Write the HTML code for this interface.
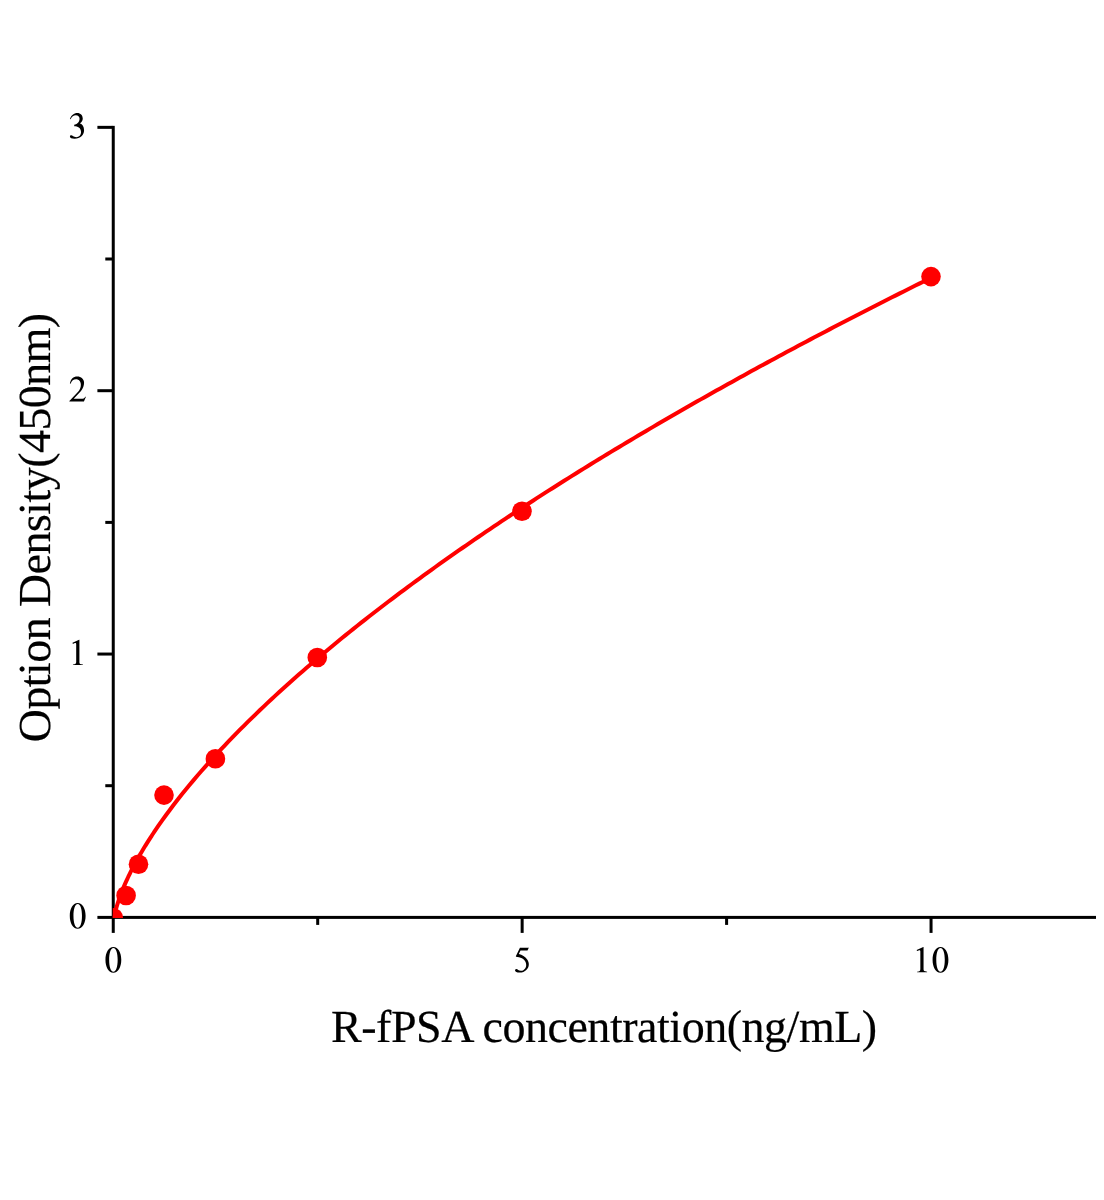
<!DOCTYPE html>
<html><head><meta charset="utf-8"><title>chart</title>
<style>
html,body{margin:0;padding:0;background:#fff;}
body{width:1104px;height:1200px;overflow:hidden;}
svg{display:block;will-change:transform;}
text{font-family:"Liberation Serif",serif;fill:#000;stroke:#000;stroke-width:0.2px;text-rendering:geometricPrecision;}
</style></head><body>
<svg width="1104" height="1200" viewBox="0 0 1104 1200">
<rect width="1104" height="1200" fill="#fff"/>
<defs><clipPath id="plot"><rect x="112.75" y="100" width="991" height="818.05"/></clipPath></defs>
<g fill="#000">
<rect x="111.75" y="125.85" width="3" height="807.05"/>
<rect x="97.4" y="915.9" width="998.6" height="3"/>
<rect x="97.4" y="125.85" width="15" height="3"/>
<rect x="97.4" y="389.2" width="15" height="3"/>
<rect x="97.4" y="652.55" width="15" height="3"/>
<rect x="105.3" y="257.5" width="7" height="3"/>
<rect x="105.3" y="520.9" width="7" height="3"/>
<rect x="105.3" y="784.2" width="7" height="3"/>
<rect x="520.65" y="917" width="3" height="15.9"/>
<rect x="929.55" y="917" width="3" height="15.9"/>
<rect x="316.2" y="917" width="3" height="7.9"/>
<rect x="725.1" y="917" width="3" height="7.9"/>
</g>
<g clip-path="url(#plot)">
<path d="M113.50,923.34 L113.51,923.08 L113.53,922.68 L113.56,922.20 L113.60,921.66 L113.66,921.08 L113.74,920.45 L113.82,919.78 L113.92,919.08 L114.03,918.35 L114.15,917.59 L114.29,916.80 L114.44,915.99 L114.61,915.16 L114.78,914.30 L114.97,913.43 L115.18,912.53 L115.39,911.61 L115.62,910.68 L115.86,909.72 L116.12,908.75 L116.39,907.77 L116.67,906.76 L116.96,905.74 L117.27,904.71 L117.59,903.66 L117.93,902.60 L118.27,901.52 L118.63,900.43 L119.01,899.33 L119.39,898.21 L119.79,897.09 L120.21,895.94 L120.63,894.79 L121.07,893.63 L121.52,892.45 L121.99,891.26 L122.47,890.06 L122.96,888.85 L123.46,887.63 L123.98,886.40 L124.51,885.16 L125.05,883.91 L125.61,882.65 L126.18,881.38 L126.76,880.10 L127.36,878.81 L127.97,877.51 L128.59,876.20 L129.23,874.88 L129.87,873.55 L130.54,872.22 L131.21,870.87 L131.90,869.52 L132.60,868.16 L133.31,866.79 L134.04,865.41 L134.78,864.03 L135.53,862.64 L136.30,861.23 L137.08,859.83 L137.87,858.41 L138.68,856.98 L139.49,855.55 L140.33,854.11 L141.17,852.67 L142.03,851.21 L142.90,849.75 L143.78,848.28 L144.68,846.81 L145.59,845.33 L146.52,843.84 L147.45,842.34 L148.40,840.84 L149.36,839.33 L150.34,837.82 L151.33,836.30 L152.33,834.77 L153.35,833.23 L154.38,831.69 L158.28,825.96 L162.18,820.40 L166.08,814.99 L169.99,809.71 L173.89,804.56 L177.79,799.52 L181.69,794.59 L185.60,789.75 L189.50,785.01 L193.40,780.35 L197.30,775.76 L201.21,771.25 L205.11,766.81 L209.01,762.44 L212.91,758.13 L216.82,753.88 L220.72,749.68 L224.62,745.54 L228.53,741.44 L232.43,737.40 L236.33,733.41 L240.23,729.45 L244.14,725.55 L248.04,721.68 L251.94,717.85 L255.84,714.06 L259.75,710.31 L263.65,706.60 L267.55,702.91 L271.45,699.27 L275.36,695.65 L279.26,692.06 L283.16,688.51 L287.06,684.99 L290.97,681.49 L294.87,678.02 L298.77,674.58 L302.68,671.16 L306.58,667.77 L310.48,664.41 L314.38,661.07 L318.29,657.75 L322.19,654.46 L326.09,651.18 L329.99,647.93 L333.90,644.71 L337.80,641.50 L341.70,638.31 L345.60,635.15 L349.51,632.00 L353.41,628.87 L357.31,625.76 L361.21,622.67 L365.12,619.60 L369.02,616.54 L372.92,613.50 L376.83,610.48 L380.73,607.48 L384.63,604.49 L388.53,601.52 L392.44,598.56 L396.34,595.62 L400.24,592.69 L404.14,589.78 L408.05,586.89 L411.95,584.00 L415.85,581.14 L419.75,578.28 L423.66,575.44 L427.56,572.62 L431.46,569.80 L435.36,567.00 L439.27,564.21 L443.17,561.44 L447.07,558.68 L450.98,555.93 L454.88,553.19 L458.78,550.46 L462.68,547.75 L466.59,545.04 L470.49,542.35 L474.39,539.67 L478.29,537.00 L482.20,534.34 L486.10,531.69 L490.00,529.06 L493.90,526.43 L497.81,523.81 L501.71,521.21 L505.61,518.61 L509.52,516.02 L513.42,513.45 L517.32,510.88 L521.22,508.32 L525.13,505.78 L529.03,503.24 L532.93,500.71 L536.83,498.19 L540.74,495.68 L544.64,493.17 L548.54,490.68 L552.44,488.20 L556.35,485.72 L560.25,483.25 L564.15,480.79 L568.05,478.34 L571.96,475.90 L575.86,473.46 L579.76,471.04 L583.67,468.62 L587.57,466.21 L591.47,463.80 L595.37,461.41 L599.28,459.02 L603.18,456.64 L607.08,454.27 L610.98,451.90 L614.89,449.54 L618.79,447.19 L622.69,444.85 L626.59,442.51 L630.50,440.18 L634.40,437.86 L638.30,435.55 L642.20,433.24 L646.11,430.94 L650.01,428.64 L653.91,426.35 L657.82,424.07 L661.72,421.79 L665.62,419.52 L669.52,417.26 L673.43,415.00 L677.33,412.75 L681.23,410.51 L685.13,408.27 L689.04,406.04 L692.94,403.82 L696.84,401.60 L700.74,399.38 L704.65,397.17 L708.55,394.97 L712.45,392.78 L716.35,390.59 L720.26,388.40 L724.16,386.22 L728.06,384.05 L731.97,381.88 L735.87,379.72 L739.77,377.56 L743.67,375.41 L747.58,373.27 L751.48,371.12 L755.38,368.99 L759.28,366.86 L763.19,364.73 L767.09,362.62 L770.99,360.50 L774.89,358.39 L778.80,356.29 L782.70,354.19 L786.60,352.09 L790.51,350.00 L794.41,347.92 L798.31,345.84 L802.21,343.77 L806.12,341.70 L810.02,339.63 L813.92,337.57 L817.82,335.52 L821.73,333.46 L825.63,331.42 L829.53,329.38 L833.43,327.34 L837.34,325.31 L841.24,323.28 L845.14,321.26 L849.04,319.24 L852.95,317.22 L856.85,315.21 L860.75,313.21 L864.66,311.20 L868.56,309.21 L872.46,307.21 L876.36,305.23 L880.27,303.24 L884.17,301.26 L888.07,299.28 L891.97,297.31 L895.88,295.34 L899.78,293.38 L903.68,291.42 L907.58,289.47 L911.49,287.51 L915.39,285.57 L919.29,283.62 L923.19,281.68 L927.10,279.75 L931.00,277.81" fill="none" stroke="#f00" stroke-width="4" stroke-linejoin="round" stroke-linecap="round"/>
<g fill="#f00"><circle cx="113.4" cy="917.6" r="9.6"/><circle cx="126.1" cy="895.45" r="9.8"/><circle cx="138.5" cy="864.3" r="9.8"/><circle cx="164.0" cy="795.1" r="9.8"/><circle cx="215.4" cy="758.8" r="9.8"/><circle cx="317.3" cy="657.5" r="9.8"/><circle cx="522.0" cy="511.3" r="9.8"/><circle cx="931.0" cy="276.6" r="9.8"/></g>
</g>
<g fill="#000">
<path fill-rule="evenodd" transform="translate(103.93,972.2) scale(0.0373,-0.0373)" d="M253,677 C384,677 465,525 465,331 C465,137 384,-15 253,-15 C122,-15 41,137 41,331 C41,525 122,677 253,677 Z M254,652 C179,652 140,511 140,331 C140,151 179,10 254,10 C329,10 368,151 368,331 C368,511 329,652 254,652 Z"/>
<path transform="translate(512.85,972.2) scale(0.0373,-0.0373)" d="M433,668 L393,580 L205,580 L160,486 C250,466 330,418 385,338 C415,293 428,248 428,213 C428,93 330,-10 184,-10 C108,-10 58,10 58,45 C58,68 74,85 96,85 C132,85 146,38 218,38 C296,38 358,110 358,195 C358,300 280,378 165,403 C135,410 110,414 85,416 L80,426 L190,655 L420,655 Z"/>
<path transform="translate(912.4,972.2) scale(0.0373,-0.0373)" d="M394,0 L126,0 L126,15 C195,19 213,30 213,86 L213,552 C213,588 200,596 178,589 C160,583 142,574 124,566 L114,598 L291,676 L299,674 L299,76 C299,30 318,19 394,15 Z"/>
<path fill-rule="evenodd" transform="translate(931.05,972.2) scale(0.0373,-0.0373)" d="M253,677 C384,677 465,525 465,331 C465,137 384,-15 253,-15 C122,-15 41,137 41,331 C41,525 122,677 253,677 Z M254,652 C179,652 140,511 140,331 C140,151 179,10 254,10 C329,10 368,151 368,331 C368,511 329,652 254,652 Z"/>
<path transform="translate(68.25,138.15) scale(0.0373,-0.0373)" d="M45,514 C78,610 150,676 245,676 C325,676 389,615 389,527 C389,470 360,428 312,398 C380,370 424,300 424,215 C424,90 326,-14 170,-14 C95,-14 45,8 45,40 C45,60 60,75 82,75 C114,75 140,25 215,25 C290,25 343,90 343,165 C343,250 290,298 228,314 C205,320 185,322 160,322 L160,356 C220,372 303,420 303,520 C303,580 260,612 205,612 C140,612 95,575 62,510 Z"/>
<path transform="translate(68.25,401.5) scale(0.0373,-0.0373)" d="M474,125 L420,0 L30,0 L30,12 L265,262 C312,312 338,380 338,452 C338,536 284,596 208,596 C140,596 92,556 62,476 L44,482 C68,596 134,668 243,668 C345,668 424,598 424,503 C424,432 395,352 342,281 L146,74 L345,74 C405,74 432,84 458,130 Z"/>
<path transform="translate(68.25,665.0) scale(0.0373,-0.0373)" d="M394,0 L126,0 L126,15 C195,19 213,30 213,86 L213,552 C213,588 200,596 178,589 C160,583 142,574 124,566 L114,598 L291,676 L299,674 L299,76 C299,30 318,19 394,15 Z"/>
<path fill-rule="evenodd" transform="translate(68.25,928.2) scale(0.0373,-0.0373)" d="M253,677 C384,677 465,525 465,331 C465,137 384,-15 253,-15 C122,-15 41,137 41,331 C41,525 122,677 253,677 Z M254,652 C179,652 140,511 140,331 C140,151 179,10 254,10 C329,10 368,151 368,331 C368,511 329,652 254,652 Z"/>
</g>
<text font-size="46" x="331" y="1041.6" id="xl" textLength="546.2" lengthAdjust="spacing">R-fPSA concentration(ng/mL)</text>
<text font-size="45.8" id="yl" textLength="429.3" lengthAdjust="spacing" transform="translate(50.4,742.2) rotate(-90)">Option Density(450nm)</text>
</svg>
</body></html>
